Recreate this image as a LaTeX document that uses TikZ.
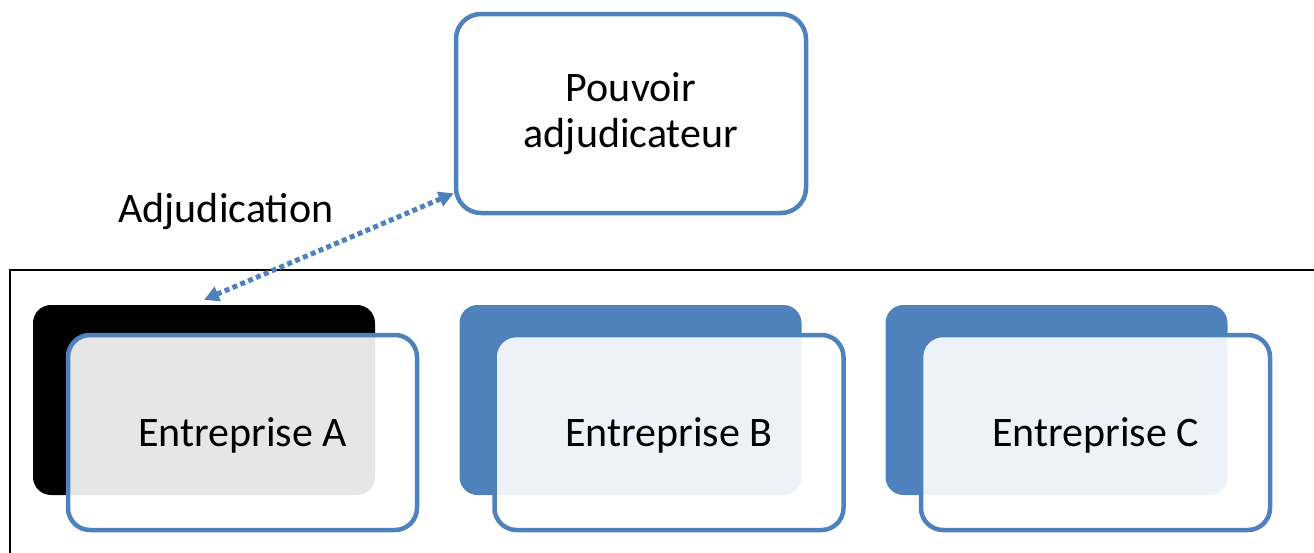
\documentclass[tikz,border=0pt]{standalone}
\usepackage{fontspec}
\setmainfont{Carlito}
\usetikzlibrary{arrows.meta}
\definecolor{accent}{HTML}{4F81BD}
\tikzset{
  txt/.style={font=\fontsize{42}{46}\selectfont, text=black},
  topbox/.style={draw=accent, line width=4.5pt, fill=white, rounded corners=25pt,
    minimum width=350pt, minimum height=199pt, inner sep=0pt, align=center, txt},
  backbox/.style={rounded corners=18pt, minimum width=342pt, minimum height=190pt, inner sep=0pt},
  frontbox/.style={draw=accent, line width=4.5pt, fill=white, fill opacity=0.9, draw opacity=1,
    text opacity=1, rounded corners=22pt, minimum width=349pt, minimum height=195pt,
    inner sep=0pt, text height=33.5pt, text depth=6.5pt, txt},
  link/.style={draw=accent, line width=5pt, dash pattern=on 5pt off 3.5pt,
    {Triangle[length=15pt,width=15pt]}-{Triangle[length=15pt,width=15pt]}},
}
\begin{document}
\begin{tikzpicture}[x=1pt, y=-1pt]
\useasboundingbox (0,0) rectangle (1314,552);

% frame around the three companies (open to the right and bottom)
\draw[line width=2pt] (10,560) -- (10,270) -- (1320,270);

% contracting authority
\node[topbox] (top) at (631,113.5) {Pouvoir\\adjudicateur};

% companies: back card + front card
\node[backbox, fill=black] (backA) at (204,400) {};
\node[frontbox] (frontA) at (242.5,432.5) {Entreprise A};

\node[backbox, fill=accent] (backB) at (630.5,400) {};
\node[frontbox] (frontB) at (669,432.5) {Entreprise B};

\node[backbox, fill=accent] (backC) at (1056.5,400) {};
\node[frontbox] (frontC) at (1095.5,432.5) {Entreprise C};

% award link
\draw[link] ([yshift=5pt]backA.north) -- ([yshift=22pt]top.south west);
\node[txt, anchor=base] (lbl) at (226,222) {Adjudication};
\end{tikzpicture}
\end{document}
